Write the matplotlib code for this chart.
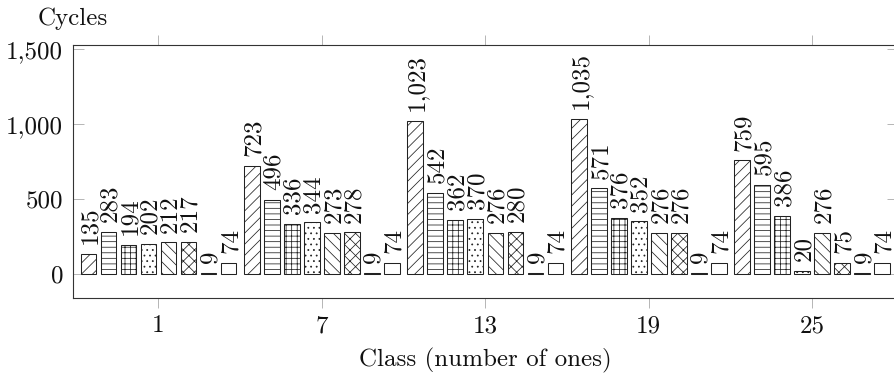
import matplotlib
matplotlib.use("Agg")
import matplotlib.pyplot as plt
import numpy as np
from matplotlib.ticker import FuncFormatter

plt.rcParams["font.family"] = "cmr10"
plt.rcParams["axes.formatter.use_mathtext"] = True
plt.rcParams["hatch.linewidth"] = 0.55
plt.rcParams["hatch.color"] = "#222222"

# Class positions on the x axis
classes = [1, 7, 13, 19, 25]

# Cycle counts per implementation (one list per bar series)
series_a = [135, 723, 1023, 1035, 759]
series_b = [283, 496, 542, 571, 595]
series_c = [194, 336, 362, 376, 386]
series_d = [202, 344, 370, 352, 20]
series_e = [212, 273, 276, 276, 276]
series_f = [217, 278, 280, 276, 75]
series_g = [9, 9, 9, 9, 9]
series_h = [74, 74, 74, 74, 74]

all_series = [series_a, series_b, series_c, series_d,
              series_e, series_f, series_g, series_h]
hatches = ["///", "---", "+++", "...", "\\\\\\", "xxx", None, None]
faces = ["white"] * 6 + ["#111111", "white"]

y_ticks = [0, 500, 1000, 1500]

fig = plt.figure(figsize=(8.94, 3.73), dpi=100)
ax = fig.add_axes([0.0813, 0.2003, 0.9232, 0.6791])

step = 0.7345
width = 0.5766
edge = "#222222"
n = len(all_series)
for i, (vals, h, fc) in enumerate(zip(all_series, hatches, faces)):
    xs = np.array(classes, dtype=float) + (i - (n - 1) / 2) * step
    ax.bar(xs, vals, width, facecolor=fc, edgecolor=edge, linewidth=0.75,
           hatch=h, zorder=2)
    for x, v in zip(xs, vals):
        ax.annotate(f"{v:,}", (x, v), xytext=(5.8, 7),
                    textcoords="offset points", rotation=90,
                    rotation_mode="anchor", ha="left", va="baseline",
                    fontsize=18, color="#111111", annotation_clip=False)

ax.set_xlim(-2.15, 28.15)
ax.set_ylim(-162, 1529)

ax.set_xticks(classes)
ax.set_xticklabels([str(c) for c in classes])
ax.set_yticks(y_ticks)
ax.yaxis.set_major_formatter(FuncFormatter(lambda v, _: f"{int(v):,}"))

tick_col = "#b5b5b5"
ax.tick_params(axis="x", direction="out", top=True, bottom=True,
               length=7.5, width=0.7, color=tick_col, labelsize=18, pad=4.5,
               labelcolor="#111111")
ax.tick_params(axis="y", direction="in", left=True, right=True,
               length=8, width=0.7, color=tick_col, labelsize=18, pad=6.8,
               labelcolor="#111111")

for sp in ax.spines.values():
    sp.set_color("#333333")
    sp.set_linewidth(0.8)

fig.text(485.5 / 894, 1 - 366 / 373, "Class (number of ones)",
         ha="center", va="baseline", fontsize=18, color="#111111")
fig.text(37.7 / 894, 1 - 25 / 373, "Cycles",
         ha="left", va="baseline", fontsize=18, color="#111111")

fig.savefig("out.png", dpi=100)
